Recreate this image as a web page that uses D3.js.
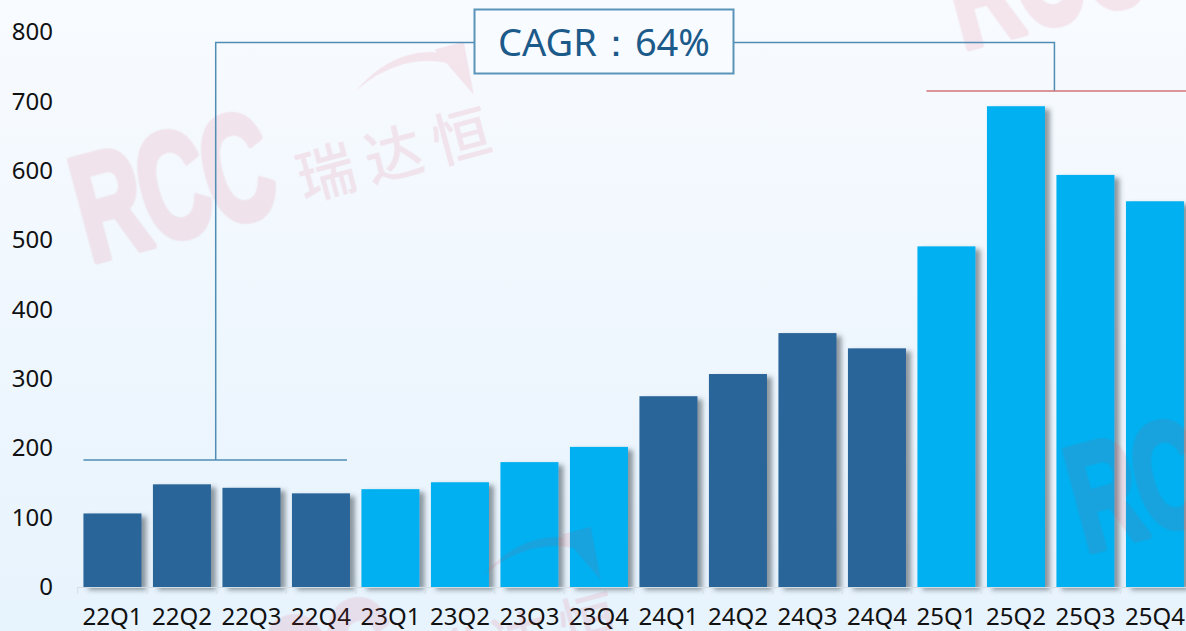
<!DOCTYPE html>
<html>
<head>
<meta charset="utf-8">
<script src="https://cdn.jsdelivr.net/npm/d3@7/dist/d3.min.js"></script>
<style>
  html, body { margin: 0; padding: 0; background: #f3f9fe; }
  svg { display: block; }
</style>
</head>
<body>
<svg id="chart" width="1186" height="631"></svg>
<script>
// ---- data ----
const categories = ["22Q1","22Q2","22Q3","22Q4","23Q1","23Q2","23Q3","23Q4",
                    "24Q1","24Q2","24Q3","24Q4","25Q1","25Q2","25Q3","25Q4"];
const values = [106, 148, 143, 135, 141, 151, 180, 202,
                275, 307, 366, 344, 491, 693, 594, 556];
const yTicks = [0, 100, 200, 300, 400, 500, 600, 700, 800];
const cagrLabel = "CAGR：64%";
const baseLevel = 183;   // left bracket level
const peakLevel = 715;   // right reference line level
const topLevel = 785;    // connector level

// ---- setup ----
const W = 1186, H = 631;
const svg = d3.select("#chart");

const defs = svg.append("defs");
const grad = defs.append("linearGradient").attr("id", "bg")
  .attr("x1", 0).attr("y1", 0).attr("x2", 0).attr("y2", 1);
grad.append("stop").attr("offset", "0%").attr("stop-color", "#f8fbff");
grad.append("stop").attr("offset", "100%").attr("stop-color", "#e7f3fd");

const f = defs.append("filter").attr("id", "shadow")
  .attr("x", "-20%").attr("y", "-10%").attr("width", "150%").attr("height", "130%");
f.append("feDropShadow").attr("dx", 5).attr("dy", 3).attr("stdDeviation", 2.5)
  .attr("flood-color", "#3a4650").attr("flood-opacity", 0.55);

svg.append("rect").attr("width", W).attr("height", H).attr("fill", "url(#bg)");

// ---- scales ----
const y = d3.scaleLinear().domain([0, 800]).range([587, 32]);
const x = d3.scaleBand().domain(categories).range([77.7, 1189.7])
  .paddingInner(0.165).paddingOuter(0.0825);
const step = x.step();
const bandStart = c => x(c) - step * x.paddingInner() / 2;

// ---- y axis labels ----
const yAxis = d3.axisLeft(y).tickValues(yTicks).tickSize(0).tickPadding(0);
const yg = svg.append("g").attr("transform", "translate(53,0)").call(yAxis);
yg.select(".domain").remove();
yg.selectAll("text").attr("font-family", "Noto Sans, sans-serif")
  .attr("font-size", 24).attr("fill", "#111");

// ---- bars ----
svg.append("g").selectAll("rect").data(categories).join("rect")
  .attr("x", d => x(d))
  .attr("y", (d, i) => y(values[i]))
  .attr("width", x.bandwidth())
  .attr("height", (d, i) => y(0) - y(values[i]))
  .attr("fill", d => (parseInt(d.slice(0, 2)) % 2 === 0) ? "#2a6599" : "#00b0f0")
  .attr("filter", "url(#shadow)");

// ---- x axis ----
const xAxis = d3.axisBottom(x).tickSize(0).tickPadding(21);
const xg = svg.append("g").attr("transform", `translate(0,${y(0)})`).call(xAxis);
xg.select(".domain").attr("stroke", "#d5dde4").attr("d", `M${bandStart(categories[0])},0.5H1186`);
xg.selectAll("text").attr("font-family", "Noto Sans, sans-serif")
  .attr("font-size", 24).attr("fill", "#111");
xg.selectAll("line.bound").data(categories).join("line").attr("class", "bound")
  .attr("x1", d => bandStart(d)).attr("x2", d => bandStart(d))
  .attr("y1", 0).attr("y2", 7).attr("stroke", "#d5dde4");

// ---- watermarks (semi-transparent, on top) ----
const wmColor = "#d6334d";
function watermark(tx, ty) {
  const g = svg.append("g")
    .attr("transform", `translate(${tx},${ty}) rotate(-15)`)
    .attr("opacity", 0.11).attr("pointer-events", "none");
  g.append("text").text("RCC")
    .attr("transform", "scale(0.64,1.02)")
    .attr("font-family", "Liberation Sans Narrow, Liberation Sans, sans-serif")
    .attr("font-weight", "bold").attr("font-size", 148).attr("letter-spacing", -4)
    .attr("fill", wmColor).attr("stroke", wmColor).attr("stroke-width", 7)
    .attr("stroke-linejoin", "round");
  g.append("text").text("瑞达恒").attr("x", 222).attr("y", -4)
    .attr("font-family", "Noto Sans CJK SC").attr("font-weight", "500")
    .attr("font-size", 58).attr("letter-spacing", 12).attr("fill", wmColor);
  g.append("path")
    .attr("d", "M300,-96 Q352,-132 402,-108 L396,-100 Q352,-122 300,-96 Z")
    .attr("fill", wmColor);
  g.append("path")
    .attr("d", "M388,-116 L418,-116 L414,-62 Z")
    .attr("fill", wmColor);
  return g;
}
watermark(90, 262);
watermark(962, 49);
watermark(217, 747);
watermark(1085, 552);

// ---- CAGR annotation ----
const lineColor = "#4f8db5";
const a = svg.append("g").attr("fill", "none");
const lx0 = x(categories[0]), lx1 = x(categories[3]) + x.bandwidth() - 3;
const lvx = bandStart(categories[2]) - 1;
const rvx = x(categories[14]) - 2;
a.append("line").attr("x1", lx0).attr("x2", lx1).attr("y1", y(baseLevel)).attr("y2", y(baseLevel))
  .attr("stroke", lineColor).attr("stroke-width", 1.5);
a.append("polyline")
  .attr("points", `${lvx},${y(baseLevel)} ${lvx},${y(topLevel)} ${rvx},${y(topLevel)} ${rvx},${y(peakLevel)}`)
  .attr("stroke", lineColor).attr("stroke-width", 1.5);
a.append("line").attr("x1", x(categories[12]) + 9).attr("x2", W)
  .attr("y1", y(peakLevel)).attr("y2", y(peakLevel))
  .attr("stroke", "#d0737a").attr("stroke-width", 1.5);

const boxX = 474.5, boxW = 259, boxY = 9.5, boxH = 64;
a.append("rect").attr("x", boxX).attr("y", boxY).attr("width", boxW).attr("height", boxH)
  .attr("fill", "#f8fbff").attr("stroke", "#5a94b8").attr("stroke-width", 2);
svg.append("text").text(cagrLabel)
  .attr("x", boxX + boxW / 2).attr("y", boxY + boxH / 2 + 14)
  .attr("text-anchor", "middle")
  .attr("font-family", "Noto Sans, sans-serif").attr("font-size", 38)
  .attr("fill", "#1c5a8a");
</script>
</body>
</html>
